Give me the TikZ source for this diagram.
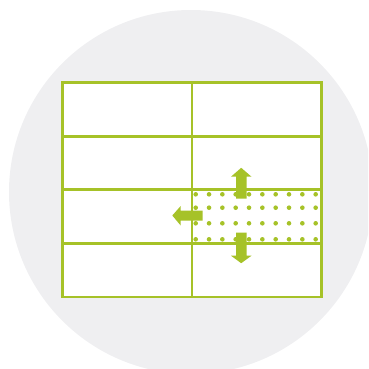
\documentclass[tikz,border=0pt]{standalone}
\begin{document}
\begin{tikzpicture}[x=1pt,y=-1pt,
  gridline/.style={draw=lime, line width=2.4pt},
  outerline/.style={draw=lime, line width=2.8pt},
  dot/.style={fill=lime},
  blockarrow/.style={fill=lime, draw=none}]
\definecolor{lime}{RGB}{166,194,40}
\definecolor{bgcircle}{RGB}{239,239,241}
\useasboundingbox (0,0) rectangle (368,369);
\begin{scope}
\clip (0,0) rectangle (368,369);
\fill[bgcircle] (191,192) circle[radius=182];
\end{scope}
% grid
\fill[white] (62.2,82.7) rectangle (321.2,297);
\foreach \y in {136.3,189.5,243.5}
  \draw[gridline] (62.2,\y) -- (321.2,\y);
\draw[gridline] (192,82.7) -- (192,297);
\draw[outerline] (62.2,82.7) rectangle (321.2,297);
% dots
\foreach \y in {194.3,207.7,223.3,239.3}
  \foreach \i in {0,...,9}
    \fill[dot] ({195.7+13.33*\i},\y) circle[radius=2.3];
% arrows
\fill[blockarrow] (236,198.7) -- (236,176.7) -- (231,176.7) -- (241.2,167.8)
  -- (251.5,176.7) -- (246.5,176.7) -- (246.5,198.7) -- cycle;
\fill[blockarrow] (236,232.5) -- (236,255.7) -- (231,255.7) -- (241.2,263.2)
  -- (251.5,255.7) -- (246.5,255.7) -- (246.5,232.5) -- cycle;
\fill[blockarrow] (202.5,210.7) -- (180.5,210.7) -- (180.5,206.2) -- (172.3,215.5)
  -- (180.5,225.3) -- (180.5,220.5) -- (202.5,220.5) -- cycle;
\end{tikzpicture}
\end{document}
